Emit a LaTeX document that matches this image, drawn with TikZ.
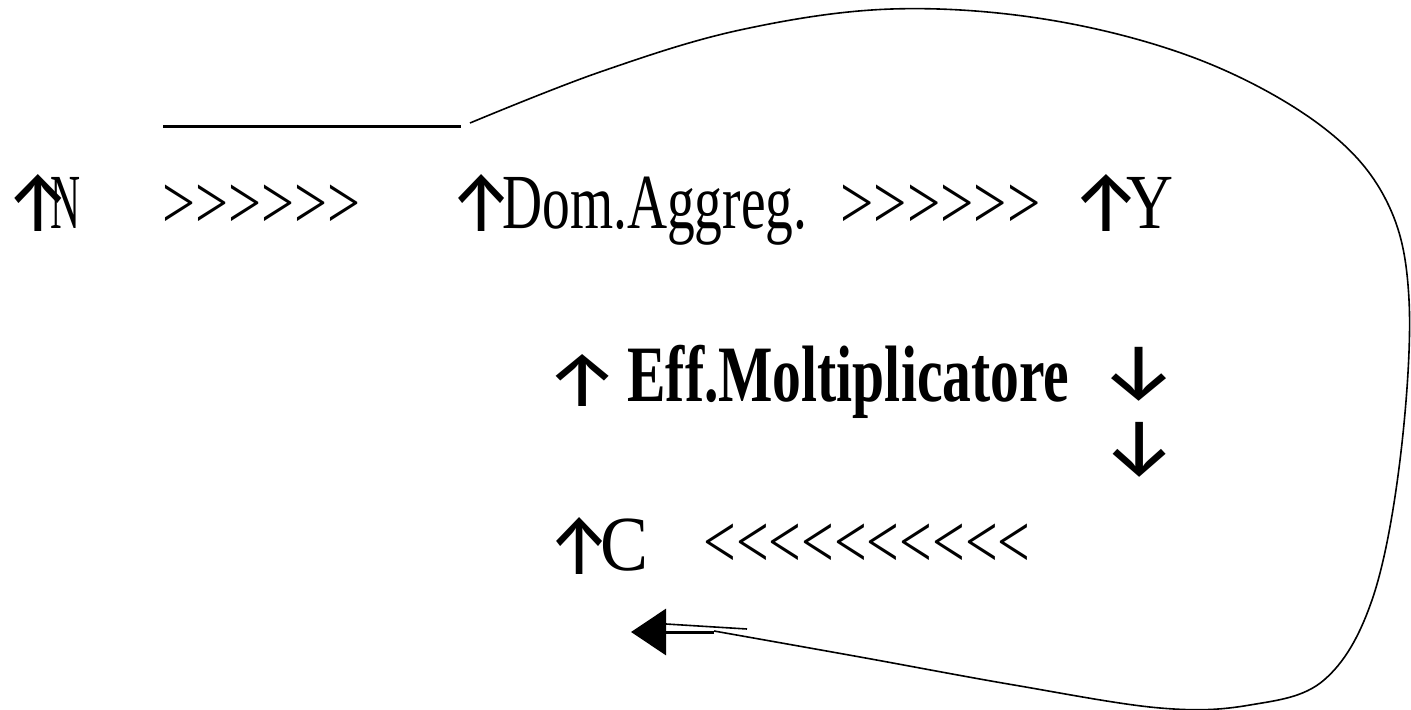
\documentclass[tikz,border=0pt]{standalone}
\usepackage{graphicx}
\usepackage{fontspec}
\setmainfont{Liberation Serif}
\newfontfamily\arrowfont{Fira Sans}
\usetikzlibrary{arrows.meta}
% one drawing unit = one pixel of the finished image
\newlength\pxu
\setlength\pxu{0.5pt}
% squeeze a text horizontally to a given width (in pixels), keeping its height
\newcommand\squeeze[2]{\resizebox{#1\pxu}{\height}{#2}}
% a glyph with its side bearings cut away, so that its box is its ink
\newcommand\inkglyph[1]{\count255=\XeTeXcharglyph`#1\relax
  \kern-\XeTeXglyphbounds1 \count255 #1\kern-\XeTeXglyphbounds3 \count255 }
% an arrow glyph stretched to a given ink box (width, height in pixels)
\newcommand\arrglyph[3]{\resizebox*{#1\pxu}{#2\pxu}{\arrowfont\inkglyph{#3}}}
\newcommand\gtrs[1]{\foreach \i in {1,...,#1}{>\kern0pt}}
\newcommand\lesss[1]{\foreach \i in {1,...,#1}{<\kern0pt}}

\begin{document}
\begin{tikzpicture}[x=0.5pt,y=-0.5pt,
  txt/.style={anchor=base west, inner sep=0pt, font=\fontsize{39}{42}\selectfont},
  btxt/.style={txt, font=\fontsize{40}{42}\selectfont\bfseries},
  chev/.style={txt, font=\fontsize{38}{42}\selectfont},
  arw/.style={anchor=south west, inner sep=0pt, font=\fontsize{39}{42}\selectfont},
  rule/.style={line width=1.5pt},
  loop/.style={line width=0.8pt},
  shaft/.style={line width=1.5pt, -{Triangle[length=17.5pt,width=23pt]}},
  thin/.style={line width=0.8pt}]
\useasboundingbox (0,0) rectangle (1411,710);

% first row
\node[arw] (upN) at (14,232) {\arrglyph{47}{57}{↑}};
\node[txt] (N) at (50,229) {\squeeze{30}{N}};
\node[chev] (g1) at (162,229) {\squeeze{198}{\gtrs{6}}};
\node[arw] (upD) at (458,232) {\arrglyph{46}{57}{↑}};
\node[txt] (dom) at (502,229) {\squeeze{305}{Dom.Aggreg.}};
\node[chev] (g2) at (840,229) {\squeeze{200}{\gtrs{6}}};
\node[arw] (upY) at (1081,232) {\arrglyph{50}{57}{↑}};
\node[txt] (Y) at (1126,229) {\squeeze{47}{Y}};

% multiplier row
\node[arw] (upE) at (556,407) {\arrglyph{53}{52}{↑}};
\node[btxt] (eff) at (627,401) {\squeeze{442}{Eff.Moltiplicatore}};
\node[arw] (dn1) at (1111,402) {\arrglyph{55}{54}{↓}};
\node[arw] (dn2) at (1113,478) {\arrglyph{53}{55}{↓}};

% consumption row
\node[arw] (upC) at (556,575) {\arrglyph{46}{57}{↑}};
\node[txt] (C) at (600,570) {\squeeze{48}{C}};
\node[chev] (g3) at (703,567) {\squeeze{327}{\lesss{10}}};

% rule above the first chevrons
\coordinate (r1) at (163,127);
\coordinate (r2) at (461,127);
\draw[rule] (r1) -- (r2);

% feedback loop
\coordinate (cs) at (470,123);
\coordinate (ce) at (714,631);
\coordinate (tip) at (631,632);
\coordinate (sh) at (714,632);
\coordinate (t1) at (666,624);
\coordinate (t2) at (747,629);
\draw[loop] plot[smooth, tension=0.6] coordinates {(cs) (600,72) (740,30) (892,9)
  (1050,20) (1200,60) (1320,125) (1386,200) (1409,300) (1400,460) (1372,600)
  (1324,680) (1250,705) (1160,708) (1014,685) (860,657) (ce)};
\draw[shaft] (sh) -- (tip);
\draw[thin] (t2) -- (t1);
\end{tikzpicture}
\end{document}
